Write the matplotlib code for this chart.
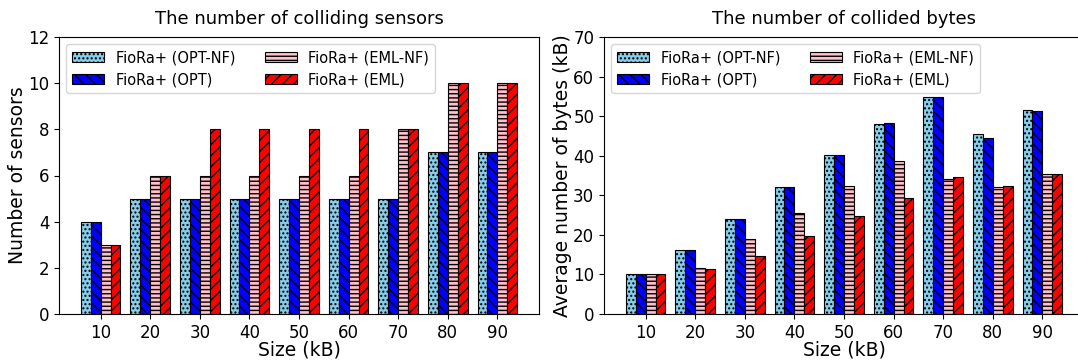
import numpy as np
import matplotlib
matplotlib.use("Agg")
import matplotlib.pyplot as plt

sizes = ["10", "20", "30", "40", "50", "60", "70", "80", "90"]
labels = ["FioRa+ (OPT-NF)", "FioRa+ (OPT)", "FioRa+ (EML-NF)", "FioRa+ (EML)"]

# number of colliding sensors
sensors_opt_nf = [4, 5, 5, 5, 5, 5, 5, 7, 7]
sensors_opt = [4, 5, 5, 5, 5, 5, 5, 7, 7]
sensors_eml_nf = [3, 6, 6, 6, 6, 6, 8, 10, 10]
sensors_eml = [3, 6, 8, 8, 8, 8, 8, 10, 10]

# average collided bytes (kB)
bytes_opt_nf = [10.1, 16.2, 24.1, 32.1, 40.1, 48.0, 54.8, 45.4, 51.5]
bytes_opt = [10.1, 16.2, 24.1, 32.1, 40.1, 48.2, 54.8, 44.6, 51.3]
bytes_eml_nf = [10.1, 11.6, 18.9, 25.6, 32.3, 38.6, 34.2, 32.1, 35.3]
bytes_eml = [10.1, 11.4, 14.6, 19.7, 24.7, 29.3, 34.7, 32.4, 35.4]

colors = ["skyblue", "blue", "pink", "red"]
hatches = ["....", "\\\\\\", "----", "///"]

plt.rcParams["hatch.linewidth"] = 1.0

fig = plt.figure(figsize=(10.78, 3.62), dpi=100)
ax1 = fig.add_axes([59 / 1078, 48 / 362, 480 / 1078, 277 / 362])
ax2 = fig.add_axes([604 / 1078, 48 / 362, 480 / 1078, 277 / 362])

x = np.arange(len(sizes))
width = 0.2


def draw(ax, series, ylim, yticks, ylabel, title):
    for i, vals in enumerate(series):
        ax.bar(x + (i - 1.5) * width, vals, width, color=colors[i],
               hatch=hatches[i], edgecolor="black", linewidth=0.8,
               label=labels[i])
    ax.set_xticks(x)
    ax.set_xticklabels(sizes, fontsize=12)
    ax.set_ylim(*ylim)
    ax.set_yticks(yticks)
    ax.tick_params(axis="y", labelsize=12)
    ax.set_xlabel("Size (kB)", fontsize=13.5, labelpad=-1)
    ax.set_ylabel(ylabel, fontsize=13.5, labelpad=1)
    ax.set_title(title, fontsize=13, pad=9)
    ax.legend(loc="upper left", ncol=2, fontsize=10.5, handlelength=2.2,
              columnspacing=2.0)


draw(ax1, [sensors_opt_nf, sensors_opt, sensors_eml_nf, sensors_eml],
     (0, 12), range(0, 13, 2), "Number of sensors",
     "The number of colliding sensors")
draw(ax2, [bytes_opt_nf, bytes_opt, bytes_eml_nf, bytes_eml],
     (0, 70), range(0, 71, 10), "Average number of bytes (kB)",
     "The number of collided bytes")

fig.savefig("out.png", dpi=100)
